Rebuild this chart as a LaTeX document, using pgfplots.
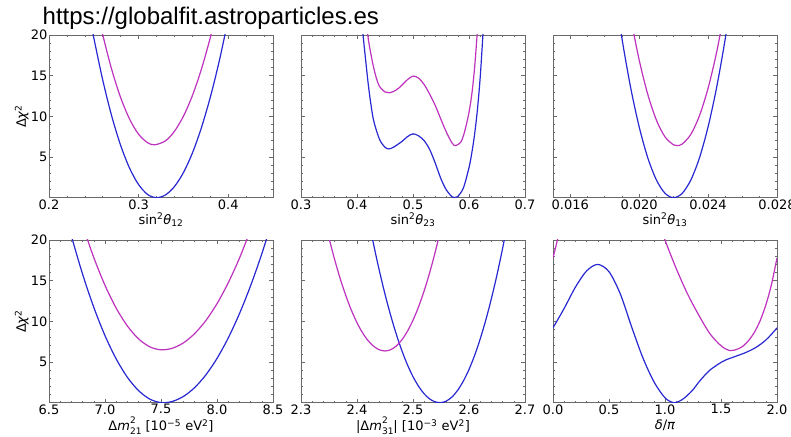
\documentclass[border=0pt]{standalone}
\usepackage{fontspec}
\setmainfont{DejaVu Sans}
\newfontfamily\titlefont{Liberation Sans}
\usepackage{pgfplots}
\pgfplotsset{compat=1.18}
\definecolor{cblue}{RGB}{40,40,210}
\definecolor{cmag}{RGB}{190,50,190}
\definecolor{frame}{RGB}{105,105,105}
\newcommand{\supsub}[2]{\makebox[0pt][l]{\raisebox{0.55em}{\fontsize{9}{9}\selectfont #1}}\raisebox{-0.3em}{\fontsize{9}{9}\selectfont #2}}
\pgfplotsset{panel/.style={
  scale only axis, width=224pt, height=162.7pt, anchor=south west,
  ymin=0, ymax=20, ytick={5,10,15,20}, minor ytick={1,...,19},
  scaled ticks=false,
  tick align=inside, tick pos=both,
  axis line style={frame, line width=0.8pt},
  tick style={color=frame, line width=0.6pt},
  major tick length=4pt, minor tick length=2pt,
  tick label style={font=\fontsize{13}{13}\selectfont, text=black},
  xticklabel style={inner sep=1.5pt},
  yticklabel style={inner sep=1.5pt},
  label style={font=\fontsize{13}{13}\selectfont},
  xlabel style={at={(axis description cs:0.5,-0.137)}, anchor=center},
  ylabel style={at={(axis description cs:-0.122,0.5)}, anchor=center},
  every axis plot/.append style={line width=1.2pt, smooth, no markers},
}}
\begin{document}
\begin{tikzpicture}
\path[use as bounding box, fill=white] (0,0) rectangle (791pt,436pt);
\node[anchor=base west, font=\titlefont\fontsize{24}{24}\selectfont, inner sep=0pt] at (42.5pt,411pt) {https://globalfit.astroparticles.es};

% panel 1
\begin{axis}[panel, at={(49pt,238.3pt)}, xmin=0.2, xmax=0.45,
  xtick={0.2,0.3,0.4}, xticklabels={0.2,0.3,0.4},
  minor xtick={0.22,0.24,0.26,0.28,0.32,0.34,0.36,0.38,0.42,0.44},
  yticklabels={5,10,15,20},
  xlabel={sin\textsuperscript{2}\textit{θ}\textsubscript{12}},
  ylabel={Δ\textit{χ}\textsuperscript{2}}]
\addplot[cblue] coordinates {(0.245,22.57)(0.25,19.66)(0.26,14.45)(0.27,10.03)(0.28,6.42)(0.29,3.61)(0.30,1.61)(0.31,0.40)(0.32,0)(0.33,0.34)(0.34,1.37)(0.35,3.08)(0.36,5.48)(0.37,8.57)(0.38,12.34)(0.39,16.79)(0.40,21.93)};
\addplot[cmag] coordinates {(0.255,22.43)(0.26,20.0)(0.27,15.75)(0.28,12.29)(0.29,9.65)(0.30,7.80)(0.31,6.76)(0.318,6.5)(0.33,6.99)(0.34,8.16)(0.35,10.01)(0.36,12.54)(0.37,15.77)(0.38,19.67)(0.39,24.26)};
\end{axis}

% panel 2
\begin{axis}[panel, at={(301pt,238.3pt)}, xmin=0.3, xmax=0.7,
  xtick={0.3,0.4,0.5,0.6,0.7}, xticklabels={0.3,0.4,0.5,0.6,0.7},
  minor xtick={0.32,0.34,0.36,0.38,0.42,0.44,0.46,0.48,0.52,0.54,0.56,0.58,0.62,0.64,0.66,0.68},
  yticklabels={},
  xlabel={sin\textsuperscript{2}\textit{θ}\textsubscript{23}}]
\addplot[cblue] coordinates {(0.405,25)(0.41,20.6)(0.415,17.2)(0.42,14.0)(0.425,11.4)(0.43,9.4)(0.44,7.2)(0.45,6.2)(0.457,6.0)(0.465,6.2)(0.48,6.9)(0.49,7.5)(0.50,7.85)(0.51,7.6)(0.52,7.0)(0.53,5.9)(0.54,4.2)(0.55,2.3)(0.56,0.9)(0.57,0.1)(0.575,0)(0.58,0.15)(0.59,1.2)(0.60,3.7)(0.605,5.5)(0.61,7.8)(0.615,10.8)(0.62,14.8)(0.625,20.2)(0.63,26)};
\addplot[cmag] coordinates {(0.415,23)(0.42,19.6)(0.425,17.6)(0.43,15.9)(0.435,14.6)(0.44,13.7)(0.45,13.0)(0.457,12.9)(0.465,13.05)(0.475,13.5)(0.49,14.5)(0.50,14.95)(0.51,14.7)(0.52,13.9)(0.53,12.7)(0.54,11.3)(0.55,9.6)(0.56,8.0)(0.57,6.7)(0.576,6.4)(0.585,6.8)(0.59,7.6)(0.595,8.9)(0.60,10.5)(0.605,12.7)(0.61,16.0)(0.615,20.5)(0.62,25)};
\end{axis}

% panel 3
\begin{axis}[panel, at={(553pt,238.3pt)}, xmin=0.015, xmax=0.028,
  xtick={0.016,0.020,0.024,0.028}, xticklabels={0.016,0.020,0.024,0.028},
  minor xtick={0.015,0.017,0.018,0.019,0.021,0.022,0.023,0.025,0.026,0.027},
  yticklabels={},
  xlabel={sin\textsuperscript{2}\textit{θ}\textsubscript{13}}]
\addplot[cblue] coordinates {(0.0185,26.7)(0.019,19.6)(0.0195,13.6)(0.020,8.71)(0.0205,4.90)(0.021,2.18)(0.0215,0.54)(0.022,0)(0.0225,0.54)(0.023,2.18)(0.0235,4.90)(0.024,8.71)(0.0245,13.6)(0.025,19.6)(0.0255,26.7)};
\addplot[cmag] coordinates {(0.019,28.7)(0.0195,22.28)(0.020,16.94)(0.0205,12.70)(0.021,9.54)(0.0215,7.47)(0.022,6.49)(0.0222,6.4)(0.0225,6.60)(0.023,7.79)(0.0235,10.08)(0.024,13.46)(0.0245,17.92)(0.025,23.48)};
\end{axis}

% panel 4
\begin{axis}[panel, at={(49pt,33.3pt)}, xmin=6.5, xmax=8.5,
  xtick={6.5,7.0,7.5,8.0,8.5}, xticklabels={6.5,7.0,7.5,8.0,8.5},
  minor xtick={6.6,6.7,6.8,6.9,7.1,7.2,7.3,7.4,7.6,7.7,7.8,7.9,8.1,8.2,8.3,8.4},
  yticklabels={5,10,15,20},
  xlabel style={at={(axis description cs:0.5,-0.14)}},
  xlabel={Δ\textit{m}\supsub{2}{21} [10\textsuperscript{−5} eV\textsuperscript{2}]},
  ylabel={Δ\textit{χ}\textsuperscript{2}}]
\addplot[cblue] coordinates {(6.6,25.8)(6.7,20.5)(6.8,15.8)(6.9,11.72)(7.0,8.24)(7.1,5.38)(7.2,3.12)(7.3,1.48)(7.4,0.44)(7.5,0.01)(7.6,0.15)(7.7,0.77)(7.8,1.85)(7.9,3.41)(8.0,5.44)(8.1,7.95)(8.2,10.93)(8.3,14.38)(8.4,18.30)(8.5,22.69)};
\addplot[cmag] coordinates {(6.7,26.5)(6.8,21.87)(6.9,17.84)(7.0,14.43)(7.1,11.62)(7.2,9.43)(7.3,7.84)(7.4,6.87)(7.5,6.5)(7.6,6.69)(7.7,7.35)(7.8,8.49)(7.9,10.09)(8.0,12.17)(8.1,14.73)(8.2,17.75)(8.3,21.25)};
\end{axis}

% panel 5
\begin{axis}[panel, at={(301pt,33.3pt)}, xmin=2.3, xmax=2.7,
  xtick={2.3,2.4,2.5,2.6,2.7}, xticklabels={2.3,2.4,2.5,2.6,2.7},
  minor xtick={2.32,2.34,2.36,2.38,2.42,2.44,2.46,2.48,2.52,2.54,2.56,2.58,2.62,2.64,2.66,2.68},
  yticklabels={},
  xlabel style={at={(axis description cs:0.5,-0.14)}},
  xlabel={|Δ\textit{m}\supsub{2}{31}| [10\textsuperscript{−3} eV\textsuperscript{2}]}]
\addplot[cblue] coordinates {(2.42,22.76)(2.43,19.34)(2.44,16.2)(2.45,13.34)(2.46,10.76)(2.47,8.45)(2.48,6.42)(2.49,4.67)(2.50,3.2)(2.51,2.01)(2.52,1.09)(2.53,0.45)(2.54,0.09)(2.55,0.01)(2.56,0.22)(2.57,0.73)(2.58,1.55)(2.59,2.67)(2.60,4.09)(2.61,5.81)(2.62,7.84)(2.63,10.17)(2.64,12.8)(2.65,15.73)(2.66,18.97)(2.67,22.51)};
\addplot[cmag] coordinates {(2.34,23.17)(2.35,20.25)(2.36,17.61)(2.37,15.25)(2.38,13.17)(2.39,11.36)(2.40,9.83)(2.41,8.58)(2.42,7.61)(2.43,6.92)(2.44,6.50)(2.45,6.36)(2.46,6.51)(2.47,6.96)(2.48,7.72)(2.49,8.78)(2.50,10.14)(2.51,11.80)(2.52,13.77)(2.53,16.04)(2.54,18.61)(2.55,21.48)};
\end{axis}

% panel 6
\begin{axis}[panel, at={(553pt,33.3pt)}, xmin=0, xmax=2,
  xtick={0,0.5,1,1.5,2}, xticklabels={0.0,0.5,1.0,1.5,2.0},
  minor xtick={0.1,0.2,0.3,0.4,0.6,0.7,0.8,0.9,1.1,1.2,1.3,1.4,1.6,1.7,1.8,1.9},
  yticklabels={},
  xlabel style={at={(axis description cs:0.5,-0.14)}},
  xlabel={\textit{δ}/\textit{π}}]
\addplot[cblue] coordinates {(0,9.2)(0.1,11.6)(0.2,14.2)(0.3,16.2)(0.4,17.0)(0.5,16.1)(0.6,13.4)(0.7,9.4)(0.8,5.6)(0.9,2.6)(1.0,0.6)(1.08,0)(1.15,0.35)(1.2,0.9)(1.25,1.6)(1.3,2.5)(1.35,3.3)(1.4,4.0)(1.45,4.5)(1.5,4.95)(1.55,5.3)(1.6,5.55)(1.65,5.8)(1.7,6.05)(1.75,6.35)(1.8,6.7)(1.85,7.15)(1.9,7.7)(1.95,8.4)(2.0,9.2)};
\addplot[cmag] coordinates {(0,17.8)(0.05,20.6)(0.1,23.5)};
\addplot[cmag] coordinates {(0.95,22.2)(1.0,20.0)(1.1,16.5)(1.2,13.4)(1.3,10.8)(1.4,8.5)(1.5,7.0)(1.58,6.4)(1.65,6.6)(1.7,7.0)(1.75,7.7)(1.8,8.7)(1.85,10.1)(1.9,12.0)(1.95,14.5)(2.0,17.8)};
\end{axis}
\end{tikzpicture}
\end{document}
